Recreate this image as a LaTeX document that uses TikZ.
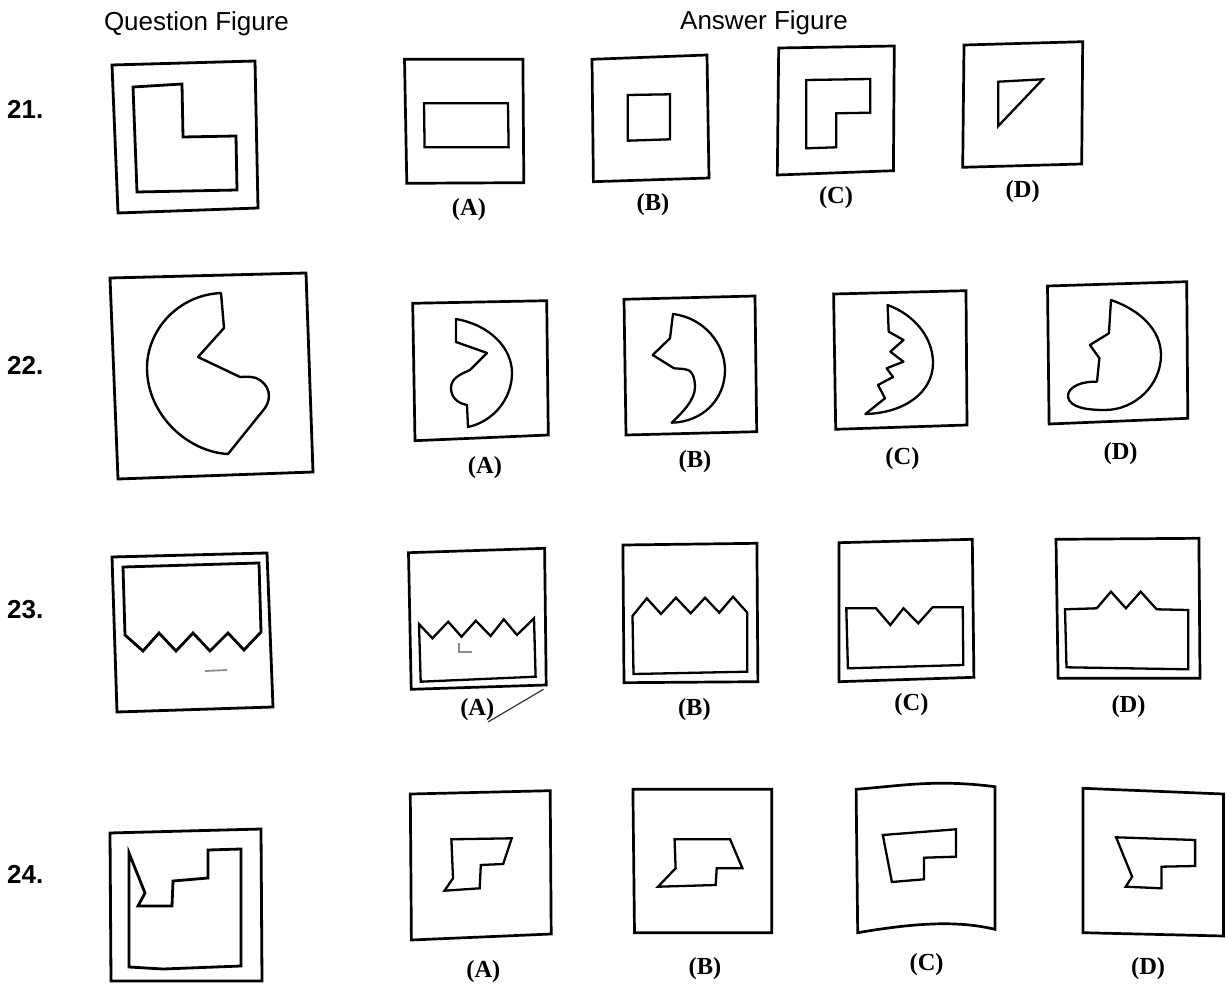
\documentclass[tikz,border=0pt]{standalone}
\usepackage{fontspec}
\newfontfamily\hsans{Liberation Sans}
\newfontfamily\lserif{Liberation Serif}
\begin{document}
\begin{tikzpicture}[x=1pt,y=-1pt,
  frame/.style={line width=2.7pt,line join=miter},
  shp/.style={line width=2.3pt,line join=miter},
  qshp/.style={line width=2.8pt,line join=miter},
  head/.style={font=\hsans\fontsize{26}{26}\selectfont,inner sep=0pt,anchor=base},
  num/.style={font=\hsans\bfseries\fontsize{26}{26}\selectfont,inner sep=0pt,anchor=base west},
  lab/.style={font=\lserif\bfseries\fontsize{24.5}{24.5}\selectfont,inner sep=0pt,anchor=center},
  scanmark/.style={line width=1.4pt,black!45}]
\useasboundingbox[fill=white] (0,0) rectangle (1227,984);

% headings
\node[head] (hq) at (196.5,31) {Question Figure};
\node[head] (ha) at (764,30) {Answer Figure};
\node[num] (n21) at (7,119) {21.};
\node[num] (n22) at (7,375) {22.};
\node[num] (n23) at (7,618) {23.};
\node[num] (n24) at (7,883) {24.};

% ---------------- Row 21 ----------------
\draw[qshp] (112,65) -- (255,61) -- (258,208) -- (118,213) -- cycle;
\draw[qshp] (133,87) -- (182,84) -- (183,137) -- (236,136) -- (237,190) -- (137,192) -- cycle;

\draw[frame] (404.5,59.3) -- (522.9,59.3) -- (523.8,182.7) -- (406.8,183.3) -- cycle;
\draw[shp] (424,103.3) -- (508,103.3) -- (508.6,147.3) -- (424.6,147.3) -- cycle;
\node[lab] (a21) at (469,210) {(A)};

\draw[frame] (592,59.3) -- (707,55) -- (709,178) -- (593.4,181.7) -- cycle;
\draw[shp] (627.8,95) -- (670,94.3) -- (670,139.3) -- (627.8,140.7) -- cycle;
\node[lab] (b21) at (653,205) {(B)};

\draw[frame] (778.7,48) -- (894.3,46) -- (893.4,170.7) -- (777.3,175) -- cycle;
\draw[shp] (806.3,80) -- (870.2,79) -- (870.2,112.7) -- (836.3,113.3) -- (836.3,147.3) -- (806.3,148.3) -- cycle;
\node[lab] (c21) at (836,198) {(C)};

\draw[frame] (964,45) -- (1082.7,41.7) -- (1081.7,164) -- (962.7,167.3) -- cycle;
\draw[shp] (998.3,81.7) -- (1042.7,79.3) -- (998.3,126) -- cycle;
\node[lab] (d21) at (1022.7,191.7) {(D)};

% ---------------- Row 22 ----------------
\draw[qshp] (110,278) -- (306,273) -- (313,472) -- (118,479) -- cycle;
\draw[line width=2.4pt,line join=round] (221,293) .. controls (178,295) and (147,330) .. (147,368)
  .. controls (147,415) and (188,452) .. (228,454) -- (265,408)
  .. controls (272,398) and (270,384) .. (256,378) .. controls (250,376) and (244,377) .. (240,377)
  -- (198,357) -- (224,328) -- cycle;

\draw[frame] (412.7,303.3) -- (546.7,300.7) -- (548.3,435) -- (415,440.7) -- cycle;
\draw[shp,line join=round] (456,319) .. controls (490,325) and (512,348) .. (512,373)
  .. controls (512,400) and (492,422) .. (468,427) -- (467,405)
  .. controls (456,403) and (451,396) .. (451,388) .. controls (451,378) and (461,374) .. (470,370)
  -- (487,353) -- (456,342) -- cycle;
\node[lab] (a22) at (485,468) {(A)};

\draw[frame] (624,299.3) -- (755,296) -- (756.7,431.7) -- (626,435) -- cycle;
\draw[shp,line join=round] (673,314) .. controls (705,318) and (725,345) .. (725,370)
  .. controls (725,400) and (702,422) .. (671.7,422.7)
  .. controls (682,413) and (695,400) .. (695,387) .. controls (695,376) and (691,369) .. (684,369)
  -- (674,368.3) -- (652.7,355) -- (670,338.3) -- cycle;
\node[lab] (b22) at (695,462) {(B)};

\draw[frame] (833.6,294) -- (966,290.7) -- (967,425) -- (835.7,429.3) -- cycle;
\draw[shp,line join=round] (887.6,305) .. controls (915,315) and (933,338) .. (933,363)
  .. controls (933,392) and (905,413) .. (865.4,414)
  -- (885,398.3) -- (878,385) -- (893,377) -- (886.6,368.3) -- (903.5,361.7) -- (890.3,351.7)
  -- (903.5,340) -- (888.7,331.7) -- cycle;
\node[lab] (c22) at (902.4,458.3) {(C)};

\draw[frame] (1047.5,286) -- (1186.7,281.7) -- (1187.8,418.3) -- (1049.1,424) -- cycle;
\draw[shp,line join=round] (1111,300) .. controls (1140,310) and (1161,330) .. (1161,355)
  .. controls (1161,385) and (1135,410) .. (1105,410)
  .. controls (1088,410) and (1070,408) .. (1068,397) .. controls (1067,386) and (1084,381) .. (1097,381.7)
  -- (1099.4,358.3) -- (1089.9,345) -- (1108.9,333.3) -- cycle;
\node[lab] (d22) at (1120.6,453.3) {(D)};

% ---------------- Row 23 ----------------
\draw[qshp] (112,557) -- (267,553) -- (273,707) -- (117,712) -- cycle;
\draw[qshp] (123,567) -- (259,563) -- (261,632) -- (244,650) -- (228,633) -- (210,651) -- (193,633)
  -- (176,651) -- (159,633) -- (143,651) -- (125,635) -- cycle;
\draw[scanmark,line width=1.8pt] (205,671) -- (227,670);

\draw[frame] (408.5,552.7) -- (544.6,548.3) -- (546.2,685) -- (411.2,689.3) -- cycle;
\draw[shp] (419,624) -- (432.4,638.3) -- (448.2,621.7) -- (461.5,636.7) -- (475.8,620.7) -- (490.6,636)
  -- (503.8,619.3) -- (517,635) -- (534,618.3) -- (535.6,676.7) -- (420.7,681.7) -- cycle;
\draw[scanmark] (458.8,643) -- (458.8,652) -- (472,652);
\node[lab] (a23) at (477.3,710) {(A)};
\coordinate (chk0) at (488,722);
\coordinate (chk1) at (543.5,689.3);
\draw[line width=1.2pt,black!80] (chk0) -- (chk1);

\draw[frame] (622.9,545) -- (756.9,543.3) -- (757.9,681.7) -- (624,682.7) -- cycle;
\draw[shp] (632.5,616) -- (646.8,598.3) -- (661,614) -- (675.9,597.7) -- (690.7,613.3) -- (705,597.7)
  -- (719.3,612.7) -- (733,596.7) -- (747.3,612.7) -- (747.3,671.7) -- (633.5,674) -- cycle;
\node[lab] (b23) at (694.4,710) {(B)};

\draw[frame] (838.9,542.7) -- (972.3,539.3) -- (973.9,677.3) -- (838.9,681.7) -- cycle;
\draw[shp] (846.3,608.3) -- (876,608.3) -- (890.3,625) -- (903.5,608.3) -- (918.3,623.3) -- (932.6,607.3)
  -- (962.8,607.3) -- (963.3,665) -- (847.9,668.3) -- cycle;
\node[lab] (c23) at (911.4,705) {(C)};

\draw[frame] (1056,539.3) -- (1198.9,538.3) -- (1200,678.3) -- (1058.1,678.3) -- cycle;
\draw[shp] (1065,609.3) -- (1096.7,608.3) -- (1111,591.7) -- (1125.9,608.3) -- (1140.7,591.7)
  -- (1156.6,609.3) -- (1188.3,610) -- (1188.3,669.3) -- (1066.5,667.3) -- cycle;
\node[lab] (d23) at (1128.5,706.7) {(D)};

% ---------------- Row 24 ----------------
\draw[qshp] (110,833) -- (261,829) -- (262,981) -- (111,981) -- cycle;
\draw[qshp] (129,967) -- (129,853) -- (145,893) -- (138,906) -- (172,906) -- (173,881) -- (208,878)
  -- (208,850) -- (241,849) -- (241,966) -- (163,969) -- cycle;

\draw[frame] (410.3,794) -- (550.2,790.7) -- (551.2,934) -- (411.4,940) -- cycle;
\draw[shp] (451.4,839.3) -- (511.7,838.3) -- (503.2,864) -- (480.8,865) -- (479.7,888.3) -- (444.5,890.7)
  -- (453,878.3) -- cycle;
\node[lab] (a24) at (483.4,971.7) {(A)};

\draw[frame] (632.9,789.3) -- (771.7,789.3) -- (771.7,932.7) -- (634.5,932.7) -- cycle;
\draw[shp] (674.6,839.3) -- (730.1,839.3) -- (742.4,868.3) -- (716.7,868.3) -- (715.7,885) -- (658,886.7)
  -- (675.6,868.3) -- cycle;
\node[lab] (b24) at (705,968.3) {(B)};

\draw[frame] (856.1,789.3) .. controls (900,786) and (935,779) .. (994.9,786.7) -- (994.9,929.3)
  .. controls (960,921) and (920,922) .. (857.7,932.7) -- cycle;
\draw[shp] (882.8,835) -- (955.9,829.3) -- (955.9,856.7) -- (923.9,857.7) -- (923.9,879.3) -- (891.9,882) -- cycle;
\node[lab] (c24) at (926.6,965) {(C)};

\draw[frame] (1083,788.3) -- (1223.5,794) -- (1223.5,936) -- (1083,932.7) -- cycle;
\draw[shp] (1116.1,837.3) -- (1195.1,840) -- (1195.1,866) -- (1161.5,866.7) -- (1161.5,888.3)
  -- (1125.7,886.7) -- (1132.1,876.7) -- cycle;
\node[lab] (d24) at (1148.1,968.3) {(D)};
\end{tikzpicture}
\end{document}
